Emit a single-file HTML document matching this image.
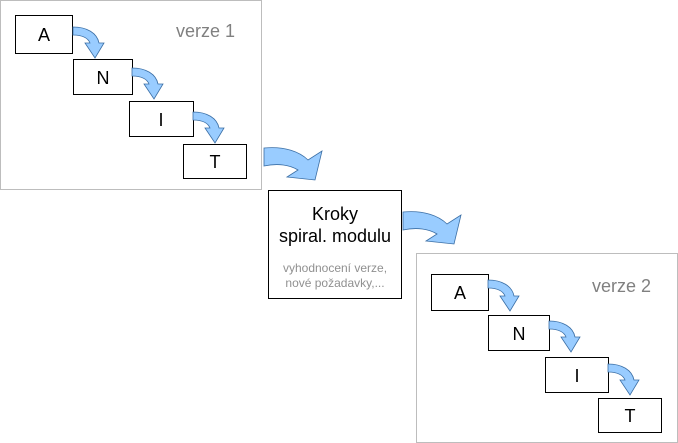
<!DOCTYPE html>
<html><head><meta charset="utf-8"><style>
body{margin:0;background:#fff;width:678px;height:443px;overflow:hidden;font-family:"Liberation Sans",sans-serif}
svg{position:absolute;left:0;top:0}
</style></head><body>
<svg width="678" height="443" viewBox="0 0 678 443" font-family="Liberation Sans, sans-serif">
<defs>
<path id="sa" d="M0,0 C14,0 24,6 26,16 L31,16 L22,31 L12,16 L17,16 C15,11 9,8 0,8 Z" fill="#99ccff" stroke="#3a6ea5" stroke-width="0.8"/>
</defs>
<rect x="0.5" y="0.5" width="261" height="189" fill="#fff" stroke="#bdbdbd"/>
<rect x="416.5" y="253.5" width="261" height="189" fill="#fff" stroke="#bdbdbd"/>
<text x="176" y="37" font-size="18" fill="#808080">verze 1</text>
<text x="592" y="292" font-size="18" fill="#808080">verze 2</text>
<g fill="#fff" stroke="#000" stroke-width="1">
<rect x="15.5" y="15.5" width="57" height="38"/>
<rect x="73.5" y="59.5" width="59" height="35"/>
<rect x="129.5" y="101.5" width="64" height="35"/>
<rect x="183.5" y="144.5" width="63" height="34"/>
<rect x="431.5" y="274.5" width="57" height="36"/>
<rect x="488.5" y="315.5" width="61" height="35"/>
<rect x="545.5" y="357.5" width="63" height="35"/>
<rect x="598.5" y="398.5" width="63" height="34"/>
<rect x="268.5" y="190.5" width="133" height="108"/>
</g>
<g font-size="18" text-anchor="middle" fill="#000">
<text x="44" y="41">A</text>
<text x="103" y="84">N</text>
<text x="161" y="126">I</text>
<text x="215" y="168">T</text>
<text x="460" y="299">A</text>
<text x="519" y="340">N</text>
<text x="577" y="382">I</text>
<text x="630" y="422">T</text>
<text x="335" y="220" font-size="18">Kroky</text>
<text x="335" y="242" font-size="18">spiral. modulu</text>
<text x="335" y="272" font-size="12" fill="#909090">vyhodnocení verze,</text>
<text x="335" y="287" font-size="12" fill="#909090">nové požadavky,...</text>
</g>
<use href="#sa" x="73" y="27"/>
<use href="#sa" x="132" y="68"/>
<use href="#sa" x="193" y="112"/>
<use href="#sa" x="488" y="280"/>
<use href="#sa" x="549" y="321"/>
<use href="#sa" x="608" y="364"/>
<path d="M264,148 C285,146 300,152 308,160 L322,151 L315,180 L287,177 L298,170 C290,165 278,163 264,166 Z" fill="#99ccff" stroke="#3a6ea5" stroke-width="0.8"/>
<path d="M403,212 C424,210 439,216 447,224 L461,215 L454,244 L426,241 L437,234 C429,229 417,227 403,230 Z" fill="#99ccff" stroke="#3a6ea5" stroke-width="0.8"/>
</svg>
</body></html>
